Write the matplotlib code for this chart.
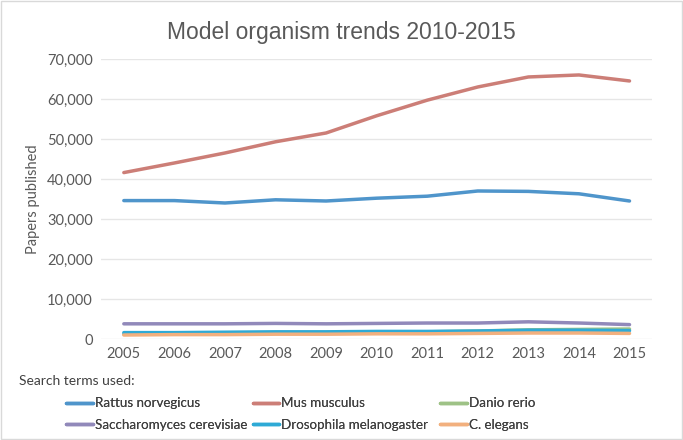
import matplotlib.pyplot as plt
from matplotlib.ticker import FuncFormatter
from matplotlib.patches import Rectangle

years = [2005, 2006, 2007, 2008, 2009, 2010, 2011, 2012, 2013, 2014, 2015]

rattus = [34600, 34600, 34000, 34800, 34500, 35200, 35700, 37000, 36900, 36300, 34500]
mus = [41600, 44000, 46500, 49300, 51500, 55800, 59700, 63000, 65500, 66000, 64500]
danio = [1200, 1300, 1400, 1500, 1600, 1700, 1800, 2000, 2300, 2400, 2500]
sacch = [3800, 3800, 3800, 3900, 3800, 3900, 4000, 4000, 4300, 4000, 3600]
droso = [1600, 1600, 1700, 1800, 1800, 1900, 1900, 2000, 2200, 2200, 2100]
elegans = [1000, 1100, 1100, 1200, 1200, 1300, 1300, 1400, 1500, 1500, 1400]

names = ['Rattus norvegicus', 'Mus musculus', 'Danio rerio',
         'Saccharomyces cerevisiae', 'Drosophila melanogaster', 'C. elegans']
colors = ['#4F95CB', '#CC7E77', '#9EC286', '#9189BA', '#2EAAD6', '#F2B07E']
series = [rattus, mus, danio, sacch, droso, elegans]

fig = plt.figure(figsize=(6.83, 4.40), dpi=100)
fig.patches.append(Rectangle((0.002, 0.002), 0.996, 0.996, transform=fig.transFigure,
                             fill=False, edgecolor='#D9D9D9', lw=1))
ax = fig.add_axes([0.148, 0.2295, 0.807, 0.6365])

lines = {}
for name, vals, col in zip(names, series, colors):
    l, = ax.plot(years, vals, color=col, lw=2.5, solid_capstyle='round', label=name)
    lines[name] = l

ax.set_xlim(2004.55, 2015.45)
ax.set_ylim(0, 70000)
ax.set_yticks(range(0, 70001, 10000))
ax.set_xticks(years)
ax.yaxis.set_major_formatter(FuncFormatter(lambda v, p: f'{int(v):,}'))
ax.grid(axis='y', color='#E6E6E6', lw=1)
ax.set_axisbelow(True)
for s in ax.spines.values():
    s.set_visible(False)
ax.tick_params(length=0, labelsize=10.5, colors='#595959', pad=6)
for lab in ax.get_xticklabels() + ax.get_yticklabels():
    lab.set_family('Lato')
ax.set_ylabel('Papers published', fontsize=10.5, color='#595959', family='Lato', labelpad=5)

fig.text(0.5, 0.927, 'Model organism trends 2010-2015', ha='center', va='center',
         fontsize=16.5, color='#595959', family='Liberation Sans')
fig.text(0.028, 0.134, 'Search terms used:', ha='left', va='center',
         fontsize=10, color='#404040', family='Lato')

# three legend columns, placed like the original
columns = [['Rattus norvegicus', 'Saccharomyces cerevisiae'],
           ['Mus musculus', 'Drosophila melanogaster'],
           ['Danio rerio', 'C. elegans']]
col_x = [0.097, 0.370, 0.644]
for cx, col in zip(col_x, columns):
    leg = fig.legend([lines[n] for n in col], col, loc='upper left',
                     bbox_to_anchor=(cx, 0.097), frameon=False,
                     prop={'family': 'Lato', 'size': 9.6}, handlelength=2.0,
                     handletextpad=0.15, labelspacing=0.7,
                     borderaxespad=0, borderpad=0)
    for t in leg.get_texts():
        t.set_color('#404040')
    fig.add_artist(leg)

fig.savefig('out.png', dpi=100)
